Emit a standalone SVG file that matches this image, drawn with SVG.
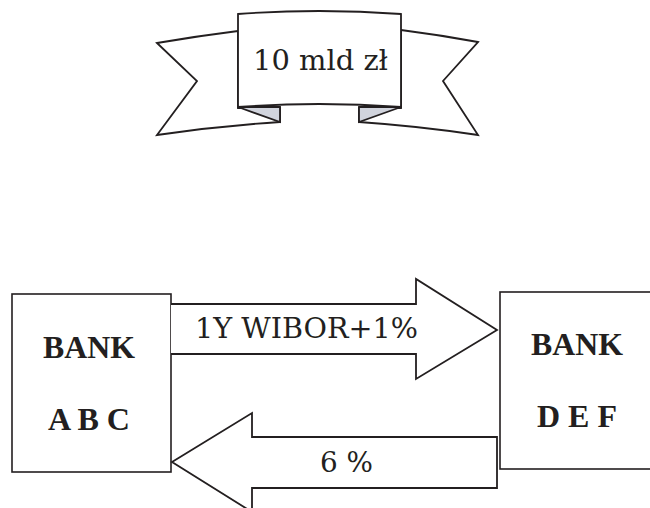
<svg xmlns="http://www.w3.org/2000/svg" width="650" height="508" viewBox="0 0 650 508">
<style>
.ln{fill:#fff;stroke:#231f20;stroke-width:1.8;stroke-linejoin:miter}
.fold{fill:#d1d4dd;stroke:#231f20;stroke-width:1.8;stroke-linejoin:miter}
.box{fill:#fff;stroke:#231f20;stroke-width:1.6}
.t{font-family:'DejaVu Serif','Liberation Serif',serif;fill:#231f20}
.b{font-family:'Liberation Serif','Times New Roman',serif;font-weight:bold;fill:#231f20}
</style>
<rect width="650" height="508" fill="#fff"/>
<g id="banner">
<path class="ln" d="M238,31 Q198,36 157,43 L197,81 L157,135 Q218,126 280,122 L280,108 L238,108 Z"/>
<path class="ln" d="M401,30 Q440,35 478,42 L443,81 L478,135 Q418,126 359,122 L359,108 L401,108 Z"/>
<path class="fold" d="M238,107 L280,107 L280,122 Z"/>
<path class="fold" d="M359,107 L401,107 L359,122 Z"/>
<path class="ln" d="M238,14 Q319,8 401,14 L401,107 Q319,101 238,107 Z"/>
<text class="t" x="253" y="70" font-size="27" textLength="135" lengthAdjust="spacingAndGlyphs">10 mld zł</text>
</g>
<g id="bankABC">
<rect class="box" x="12" y="294" width="159" height="178"/>
<text class="b" x="43" y="358" font-size="32" textLength="92" lengthAdjust="spacingAndGlyphs">BANK</text>
<text class="b" x="48" y="430" font-size="32" textLength="82" lengthAdjust="spacingAndGlyphs">A B C</text>
</g>
<g id="bankDEF">
<rect class="box" x="500" y="292" width="170" height="177"/>
<text class="b" x="531" y="355" font-size="32" textLength="92" lengthAdjust="spacingAndGlyphs">BANK</text>
<text class="b" x="537" y="427" font-size="32" textLength="80" lengthAdjust="spacingAndGlyphs">D E F</text>
</g>
<g id="connectors">
<path class="ln" d="M171,304 L416,304 L416,279 L497,330 L416,379 L416,354 L171,354"/>
<text class="t" x="195" y="338" font-size="27" textLength="223" lengthAdjust="spacingAndGlyphs">1Y WIBOR+1%</text>
<path class="ln" d="M497,437 L252,437 L252,413 L172,462 L252,512 L252,488 L497,488 Z"/>
<text class="t" x="320" y="472" font-size="27" textLength="53" lengthAdjust="spacingAndGlyphs">6 %</text>
</g>
</svg>
